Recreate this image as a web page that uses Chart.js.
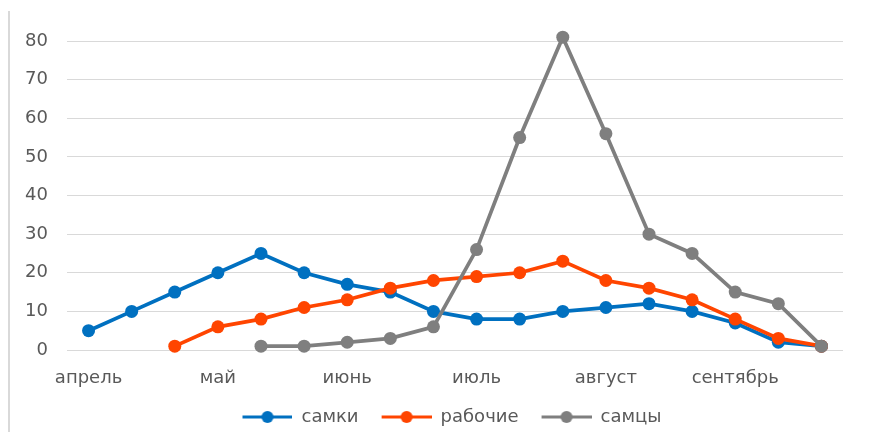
<!DOCTYPE html>
<html>
<head>
<meta charset="utf-8">
<script src="https://cdn.jsdelivr.net/npm/chart.js@4"></script>
<style>
  body { margin: 0; background: #fff; }
  #wrap { position: relative; width: 876px; height: 432px; }
  #frame { position: absolute; left: 8px; top: 11px; bottom: 0; border-left: 2px solid #d9d9d9; }
  canvas { position: absolute; left: 0; top: 0; }
</style>
</head>
<body>
<div id="wrap">
  <div id="frame"></div>
  <canvas id="myChart" width="876" height="432"></canvas>
</div>
<script>
const months = ['апрель', '', '', 'май', '', '', 'июнь', '', '', 'июль', '', '', 'август', '', '', 'сентябрь', '', ''];
const samki   = [5, 10, 15, 20, 25, 20, 17, 15, 10, 8, 8, 10, 11, 12, 10, 7, 2, 1];
const rabochie = [null, null, 1, 6, 8, 11, 13, 16, 18, 19, 20, 23, 18, 16, 13, 8, 3, 1];
const samcy   = [null, null, null, null, 1, 1, 2, 3, 6, 26, 55, 81, 56, 30, 25, 15, 12, 1];
const yTicks = [0, 10, 20, 30, 40, 50, 60, 70, 80];

const colors = ['#0070c0', '#ff4500', '#7f7f7f'];
const textColor = '#595959';
const fontFamily = 'DejaVu Sans';

// legend symbol: short line with a dot, blank gap on the left for item spacing
function legendIcon(color) {
    const c = document.createElement('canvas');
    c.width = 59;
    c.height = 14;
    const ctx = c.getContext('2d');
    ctx.strokeStyle = color;
    ctx.lineWidth = 3;
    ctx.beginPath();
    ctx.moveTo(9, 7);
    ctx.lineTo(59, 7);
    ctx.stroke();
    ctx.fillStyle = color;
    ctx.beginPath();
    ctx.arc(34, 7, 6, 0, Math.PI * 2);
    ctx.fill();
    return c;
}
const icons = colors.map(legendIcon);

function series(label, values, color, order) {
    return {
        label: label,
        data: values,
        borderColor: color,
        backgroundColor: color,
        pointBackgroundColor: color,
        pointBorderWidth: 0,
        pointRadius: 6.5,
        borderWidth: 3.75,
        order: order,
        clip: false
    };
}

// move the legend box so it is centred like the original
const legendShift = {
    id: 'legendShift',
    afterLayout(chart) {
        chart.legend.left = 52;
        chart.legend.right = 843;
    }
};

const myChart = document.getElementById('myChart');

let globalChart = new Chart(myChart, {
    type: 'line',
    data: {
        labels: months,
        datasets: [
            series('самки', samki, colors[0], 2),
            series('рабочие', rabochie, colors[1], 1),
            series('самцы', samcy, colors[2], 0)
        ]
    },
    options: {
        responsive: false,
        animation: false,
        layout: {
            padding: { left: 0, right: 33, top: 41, bottom: -4 }
        },
        scales: {
            x: {
                offset: true,
                grid: { display: false },
                border: { display: false },
                ticks: {
                    autoSkip: false,
                    maxRotation: 0,
                    padding: 10,
                    color: textColor,
                    font: { family: fontFamily, size: 18 }
                },
                afterFit: scale => { scale.height = 44; }
            },
            y: {
                min: 0,
                max: 80,
                afterBuildTicks: scale => { scale.ticks = yTicks.map(v => ({ value: v })); },
                grid: { color: '#d9d9d9', lineWidth: 1, drawTicks: false },
                border: { display: false },
                ticks: {
                    padding: 19,
                    color: textColor,
                    font: { family: fontFamily, size: 18 }
                },
                afterFit: scale => { scale.width = 67; }
            }
        },
        plugins: {
            tooltip: { enabled: false },
            legend: {
                position: 'bottom',
                labels: {
                    usePointStyle: true,
                    pointStyleWidth: 59,
                    padding: 14,
                    color: textColor,
                    font: { family: fontFamily, size: 18 },
                    generateLabels: chart => {
                        const items = Chart.defaults.plugins.legend.labels.generateLabels(chart);
                        items.sort((a, b) => a.datasetIndex - b.datasetIndex);
                        items.forEach(item => { item.pointStyle = icons[item.datasetIndex]; });
                        return items;
                    }
                }
            }
        }
    },
    plugins: [legendShift]
});
</script>
</body>
</html>
